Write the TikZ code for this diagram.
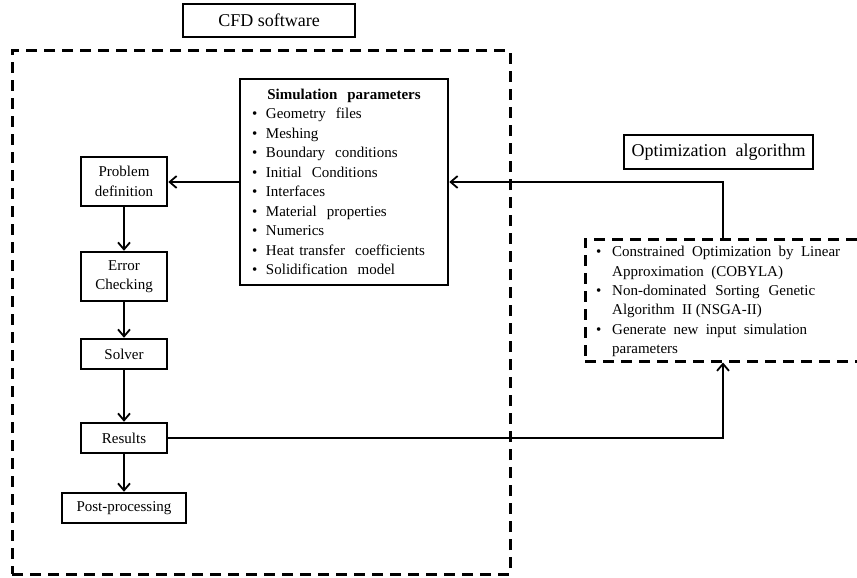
\documentclass[tikz,border=0pt]{standalone}
\usepackage{fontspec}
\setmainfont{Liberation Serif}
\usetikzlibrary{arrows.meta}
\begin{document}
\begin{tikzpicture}[x=1pt,y=-1pt,
  box/.style={draw, line width=2.5pt, inner sep=2pt, align=center, font=\fontsize{15}{19.5}\selectfont},
  dbox/.style={draw, line width=3pt, dash pattern=on 11pt off 7pt},
  arr/.style={line width=1.8pt, -{Straight Barb[length=7pt,width=12pt,line width=1.8pt]}}]
\useasboundingbox (0,0) rectangle (857,578);
\clip (0,0) rectangle (857,578);
% frames
\node[dbox, minimum width=498pt, minimum height=523pt] (cfdframe) at (261,312.5) {};
\node[dbox, minimum width=300pt, minimum height=122pt] (optbox) at (735,300) {};
% titles
\node[box, minimum width=172pt, minimum height=33pt, font=\fontsize{18}{22}\selectfont] (cfd) at (269,20.5) {CFD software};
\node[box, minimum width=189pt, minimum height=34pt, font=\fontsize{18}{22}\selectfont] (optalg) at (718.5,152) {Optimization\ \ algorithm};
% simulation parameters
\node[box, minimum width=208pt, minimum height=206pt, text width=184pt, inner xsep=12pt, align=left] (sim) at (344,182) {%
\makebox[184pt][c]{\textbf{Simulation\ \ parameters}}\\
\makebox[14pt][l]{•}Geometry\ \ files\\
\makebox[14pt][l]{•}Meshing\\
\makebox[14pt][l]{•}Boundary\ \ conditions\\
\makebox[14pt][l]{•}Initial\ \ Conditions\\
\makebox[14pt][l]{•}Interfaces\\
\makebox[14pt][l]{•}Material\ \ properties\\
\makebox[14pt][l]{•}Numerics\\
\makebox[14pt][l]{•}Heat transfer\ \ coefficients\\
\makebox[14pt][l]{•}Solidification\ \ model};
% process chain
\node[box, minimum width=86pt, minimum height=49pt] (prob) at (124,181.5) {Problem\\definition};
\node[box, minimum width=86pt, minimum height=49pt] (err) at (124,276.5) {Error\\Checking};
\node[box, minimum width=86pt, minimum height=30pt] (solver) at (124,354) {Solver};
\node[box, minimum width=86pt, minimum height=30pt] (results) at (124,438) {Results};
\node[box, minimum width=124pt, minimum height=30pt] (post) at (124,508) {Post-processing};
% optimization text
\node[anchor=west, align=left, inner sep=0pt, font=\fontsize{15}{19.4}\selectfont] (opttext) at (596,301.5) {%
\makebox[16pt][l]{•}\makebox[228pt][s]{Constrained Optimization by Linear}\\
\makebox[16pt][l]{}Approximation\ \ (COBYLA)\\
\makebox[16pt][l]{•}\makebox[203pt][s]{Non-dominated Sorting Genetic}\\
\makebox[16pt][l]{}Algorithm\ \ II (NSGA-II)\\
\makebox[16pt][l]{•}\makebox[195pt][s]{Generate new input simulation}\\
\makebox[16pt][l]{}parameters};
% connectors
\coordinate (loopx) at (723,0);
\draw[arr] (sim.west) -- (prob.east |- sim.west);
\draw[arr] (optbox.north -| loopx) |- (sim.east);
\draw[arr] (prob) -- (err);
\draw[arr] (err) -- (solver);
\draw[arr] (solver) -- (results);
\draw[arr] (results) -- (post);
\draw[arr] (results.east) -| (optbox.south -| loopx);
\end{tikzpicture}
\end{document}
